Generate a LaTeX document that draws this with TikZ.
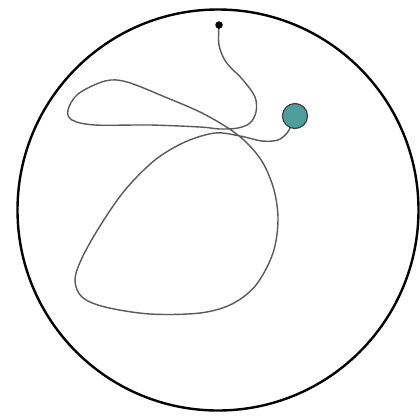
\documentclass[tikz,border=0pt]{standalone}
\begin{document}
\begin{tikzpicture}[x=1pt,y=-1pt,
  wire/.style={draw=black!65,line width=1.4pt,line cap=round,line join=round},
  rim/.style={draw=black,line width=2.4pt}]
\useasboundingbox (0,0) rectangle (420,416);
\node[circle,rim,minimum size=401pt,inner sep=0pt] (rimc) at (218,210) {};
\draw[wire] plot[smooth,tension=0.55] coordinates {
 (219,26) (219,45) (226,62) (243,80) (255,97) (256,112) (250,123) (238,128) (220,129)
 (200,127) (150,125) (95,125) (72,120) (68,110) (78,94) (105,81) (127,82) (165,97) (200,112)
 (228,128) (247,143) (263,163) (274,190) (278,220) (273,253) (256,285) (232,304) (200,313)
 (150,314) (105,307) (82,297) (75,280) (82,258) (100,226) (125,190) (155,160) (185,142)
 (215,133) (240,136) (262,141) (278,140) (287,133) (291,126)};
\node[circle,fill=black,minimum size=7.5pt,inner sep=0pt] (dot) at (219,25) {};
\node[circle,draw=black!75,fill={rgb,255:red,78;green,158;blue,158},line width=1.2pt,minimum size=25pt,inner sep=0pt] (bead) at (295,116) {};
\end{tikzpicture}
\end{document}
